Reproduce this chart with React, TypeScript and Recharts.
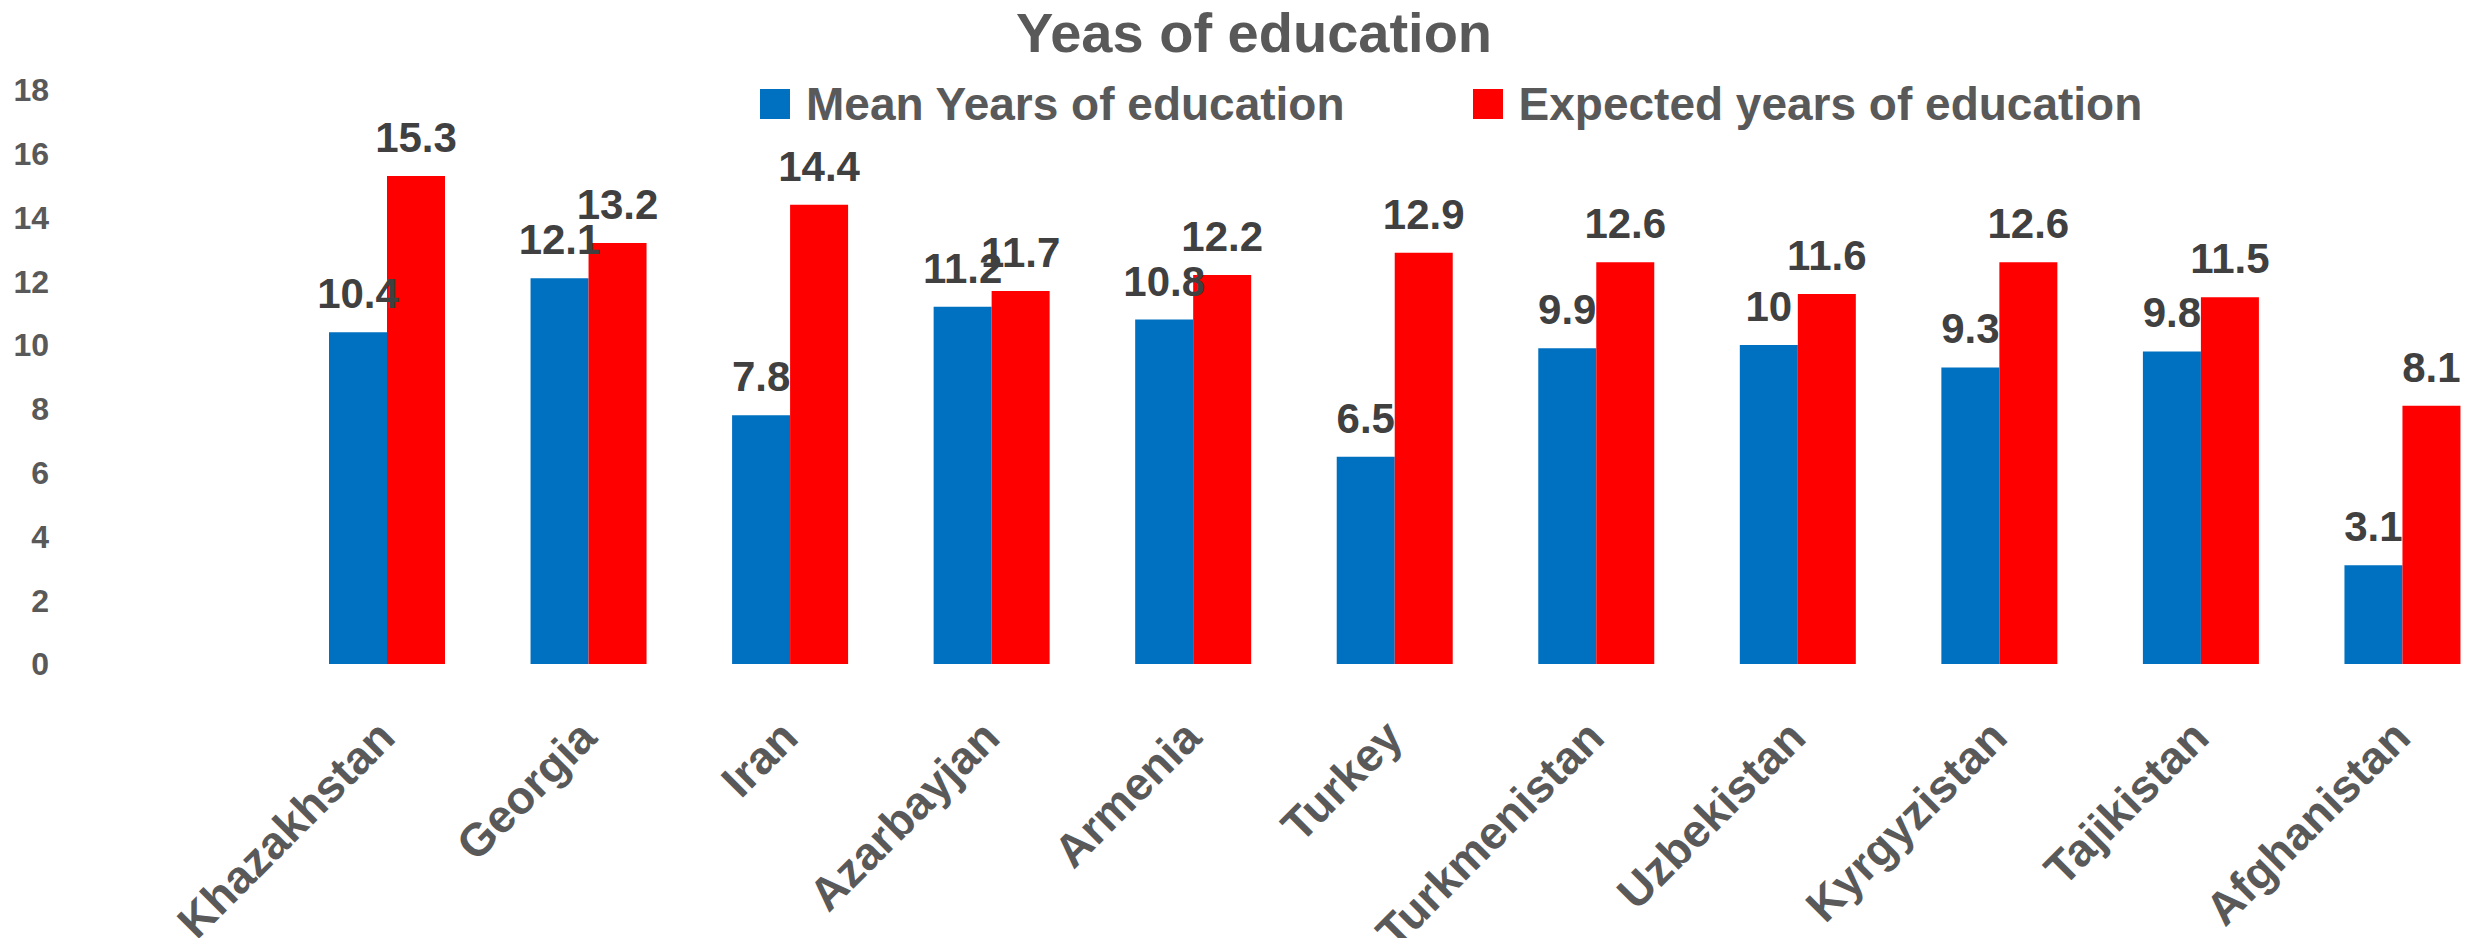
import React from 'react'
import { BarChart, Bar, XAxis, YAxis, Legend, LabelList } from 'recharts'

const countries = [
  'Khazakhstan', 'Georgia', 'Iran', 'Azarbayjan', 'Armenia', 'Turkey',
  'Turkmenistan', 'Uzbekistan', 'Kyrgyzistan', 'Tajikistan', 'Afghanistan',
]
const meanYears = [10.4, 12.1, 7.8, 11.2, 10.8, 6.5, 9.9, 10, 9.3, 9.8, 3.1]
const expectedYears = [15.3, 13.2, 14.4, 11.7, 12.2, 12.9, 12.6, 11.6, 12.6, 11.5, 8.1]
const yTicks = [0, 2, 4, 6, 8, 10, 12, 14, 16, 18]
const seriesOrder = ['mean', 'expected']

const data = countries.map((name, i) => ({
  name,
  mean: meanYears[i],
  expected: expectedYears[i],
}))

const FONT = '"Liberation Sans", Arial, sans-serif'
const GREY = '#595959'

function CountryTick(props: any) {
  const { x, y, payload } = props
  return (
    <g transform={`translate(${x},${y})`}>
      <text
        x={-42}
        y={57}
        transform="rotate(-45)"
        textAnchor="end"
        fontSize={46}
        fontWeight="bold"
        fontFamily={FONT}
        fill={GREY}
      >
        {payload.value}
      </text>
    </g>
  )
}

function renderLegend(props: any) {
  const items = [...(props.payload || [])].sort(
    (a: any, b: any) => seriesOrder.indexOf(a.dataKey) - seriesOrder.indexOf(b.dataKey)
  )
  return (
    <div style={{ display: 'flex', alignItems: 'center', fontFamily: FONT }}>
      {items.map((entry: any, i: number) => (
        <div key={`item-${i}`} style={{ display: 'flex', alignItems: 'center', marginRight: 128 }}>
          <span style={{ width: 30, height: 30, background: entry.color, marginRight: 16, display: 'inline-block' }} />
          <span style={{ fontSize: 46, lineHeight: '46px', fontWeight: 'bold', color: GREY, whiteSpace: 'nowrap' }}>
            {entry.value}
          </span>
        </div>
      ))}
    </div>
  )
}

export default function App() {
  return (
    <div style={{ position: 'absolute', left: 0, top: 0, width: 2484, height: 938, overflow: 'hidden', background: '#fff' }}>
      <div
        style={{
          position: 'absolute', left: 0, top: 5, width: 2508, textAlign: 'center',
          fontFamily: FONT, fontSize: 56, lineHeight: '56px', fontWeight: 'bold', color: GREY,
        }}
      >
        Yeas of education
      </div>
      <BarChart
        width={2503}
        height={938}
        data={data}
        margin={{ top: 90, right: 0, bottom: 0, left: 0 }}
        barSize={58}
        barGap={0}
      >
        <XAxis
          dataKey="name"
          axisLine={false}
          tickLine={false}
          interval={0}
          height={274}
          tickMargin={0}
          tick={<CountryTick />}
        />
        <YAxis
          domain={[0, 18]}
          ticks={yTicks}
          width={286}
          axisLine={false}
          tickLine={false}
          tickSize={6}
          tickMargin={231}
          tick={{ fontSize: 32, fontWeight: 'bold', fill: GREY, fontFamily: FONT }}
        />
        <Legend
          verticalAlign="middle"
          align="center"
          content={renderLegend}
          wrapperStyle={{ top: 81, left: 760, width: 1700 }}
        />
        <Bar dataKey="mean" name="Mean Years of education" fill="#0070C0" isAnimationActive={false}>
          <LabelList dataKey="mean" position="top" offset={24} fontSize={42} fontWeight="bold" fill="#404040" fontFamily={FONT} />
        </Bar>
        <Bar dataKey="expected" name="Expected years of education" fill="#FF0000" isAnimationActive={false}>
          <LabelList dataKey="expected" position="top" offset={24} fontSize={42} fontWeight="bold" fill="#404040" fontFamily={FONT} />
        </Bar>
      </BarChart>
    </div>
  )
}
